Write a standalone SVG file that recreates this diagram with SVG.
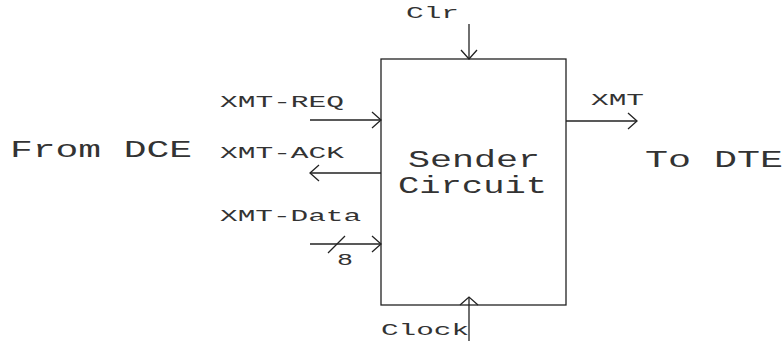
<svg xmlns="http://www.w3.org/2000/svg" width="783" height="345" viewBox="0 0 783 345">
<style>
.ln{stroke:#222;stroke-width:1.3;fill:none}
.s{font-family:"Liberation Mono","Courier New",monospace;font-size:16px;fill:#333}
.b{font-family:"Liberation Mono","Courier New",monospace;font-size:24px;fill:#333}
</style>
<defs>
<marker id="ah" markerUnits="userSpaceOnUse" markerWidth="20" markerHeight="20" viewBox="-10 -10 20 20" refX="0" refY="0" orient="auto">
<path d="M-9,-8 L0,0 L-9,8" stroke="#222" stroke-width="1.3" fill="none"/>
</marker>
</defs>
<rect width="783" height="345" fill="#fff"/>
<g id="sender">
<rect class="ln" x="381" y="59" width="185" height="246"/>
<text class="b" x="408" y="167" textLength="132" lengthAdjust="spacingAndGlyphs">Sender</text>
<text class="b" x="398" y="193" textLength="149" lengthAdjust="spacingAndGlyphs">Circuit</text>
</g>
<g id="labels">
<text class="b" x="10" y="157" textLength="182" lengthAdjust="spacingAndGlyphs">From DCE</text>
<text class="b" x="645" y="167" textLength="138" lengthAdjust="spacingAndGlyphs">To DTE</text>
<text class="s" x="406" y="18" textLength="53" lengthAdjust="spacingAndGlyphs">Clr</text>
<text class="s" x="220" y="107" textLength="124" lengthAdjust="spacingAndGlyphs">XMT-REQ</text>
<text class="s" x="220" y="158" textLength="124" lengthAdjust="spacingAndGlyphs">XMT-ACK</text>
<text class="s" x="220" y="221" textLength="141" lengthAdjust="spacingAndGlyphs">XMT-Data</text>
<text class="s" x="337" y="265" textLength="16" lengthAdjust="spacingAndGlyphs">8</text>
<text class="s" x="591" y="105" textLength="53" lengthAdjust="spacingAndGlyphs">XMT</text>
<text class="s" x="381" y="335" textLength="88" lengthAdjust="spacingAndGlyphs">Clock</text>
</g>
<g id="connectors">
<line class="ln" x1="469" y1="24" x2="469" y2="59" marker-end="url(#ah)"/>
<line class="ln" x1="310" y1="120" x2="381" y2="120" marker-end="url(#ah)"/>
<line class="ln" x1="381" y1="173" x2="310" y2="173" marker-end="url(#ah)"/>
<line class="ln" x1="310" y1="244" x2="381" y2="244" marker-end="url(#ah)"/>
<line class="ln" x1="328" y1="253" x2="345" y2="236"/>
<line class="ln" x1="566" y1="121" x2="637" y2="121" marker-end="url(#ah)"/>
<line class="ln" x1="469" y1="297" x2="469" y2="341"/>
<path class="ln" d="M460,305 L469,297 L478,305"/>
</g>
</svg>
